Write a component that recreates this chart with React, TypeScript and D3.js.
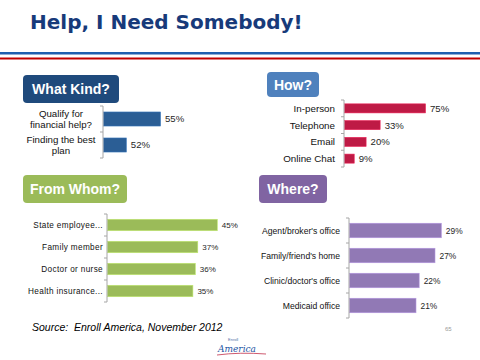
import { useEffect, useRef } from "react";
import * as d3 from "d3";

// What Kind?
const kindLabels = ["Qualify for\nfinancial help?", "Finding the best\nplan"];
const kindValues = [55, 52];

// How?
const howLabels = ["In-person", "Telephone", "Email", "Online Chat"];
const howValues = [75, 33, 20, 9];

// From Whom?
const whomLabels = ["State employee...", "Family member", "Doctor or nurse", "Health insurance..."];
const whomValues = [45, 37, 36, 35];

// Where?
const whereLabels = ["Agent/broker's office", "Family/friend's home", "Clinic/doctor's office", "Medicaid office"];
const whereValues = [29, 27, 22, 21];

const FONT = "'Liberation Sans', Arial, sans-serif";

interface Panel {
  title: string;
  titleColor: string;
  box: [number, number, number, number];
  labels: string[];
  values: number[];
  barColor: string;
  axisX: number;
  y0: number;
  y1: number;
  domain: [number, number];
  rangeWidth: number;
  padding: number;
  labelSize: number;
  valueSize: number;
  labelAnchor: "end" | "middle";
  labelX: number;
  labelSpacing?: number;
}

const panels: Panel[] = [
  {
    title: "What Kind?",
    titleColor: "#1F4A7C",
    box: [23, 75, 96, 28],
    labels: kindLabels,
    values: kindValues,
    barColor: "#2B5E95",
    axisX: 103,
    y0: 106,
    y1: 158,
    domain: [50, 60],
    rangeWidth: 114,
    padding: 0.46,
    labelSize: 9.7,
    valueSize: 9.6,
    labelAnchor: "middle",
    labelX: 61,
  },
  {
    title: "How?",
    titleColor: "#4F81BD",
    box: [267, 72, 52, 25],
    labels: howLabels,
    values: howValues,
    barColor: "#BE1A45",
    axisX: 344,
    y0: 100,
    y1: 167,
    domain: [0, 100],
    rangeWidth: 108,
    padding: 0.46,
    labelSize: 9.8,
    valueSize: 9.6,
    labelAnchor: "end",
    labelX: 335,
  },
  {
    title: "From Whom?",
    titleColor: "#9BBB59",
    box: [23, 175, 104, 28],
    labels: whomLabels,
    values: whomValues,
    barColor: "#9BBB59",
    axisX: 107,
    y0: 214,
    y1: 302,
    domain: [0, 50],
    rangeWidth: 122,
    padding: 0.48,
    labelSize: 8.2,
    valueSize: 8,
    labelAnchor: "end",
    labelX: 103,
    labelSpacing: 0.35,
  },
  {
    title: "Where?",
    titleColor: "#8064A2",
    box: [259, 175, 68, 28],
    labels: whereLabels,
    values: whereValues,
    barColor: "#9179B5",
    axisX: 349,
    y0: 218,
    y1: 318,
    domain: [0, 30],
    rangeWidth: 95,
    padding: 0.42,
    labelSize: 8.6,
    valueSize: 8.4,
    labelAnchor: "end",
    labelX: 340,
  },
];

export default function App() {
  const svgRef = useRef<SVGSVGElement>(null);

  useEffect(() => {
    if (!svgRef.current) return;
    const svg = d3.select(svgRef.current);
    svg.selectAll("*").remove();

    svg.append("rect").attr("width", 480).attr("height", 360).attr("fill", "#fff");

    // Title
    svg
      .append("text")
      .attr("x", 30)
      .attr("y", 29)
      .attr("font-family", "'DejaVu Sans', sans-serif")
      .attr("font-weight", "bold")
      .attr("font-size", 20)
      .attr("fill", "#173A7A")
      .text("Help, I Need Somebody!");

    svg.append("rect").attr("x", 0).attr("y", 52).attr("width", 480).attr("height", 2.5).attr("fill", "#1F5FAF");
    svg.append("rect").attr("x", 0).attr("y", 57.5).attr("width", 480).attr("height", 2).attr("fill", "#C00000");

    panels.forEach((p) => {
      const g = svg.append("g");
      const [bx, by, bw, bh] = p.box;

      // Header box
      g.append("rect")
        .attr("x", bx)
        .attr("y", by)
        .attr("width", bw)
        .attr("height", bh)
        .attr("rx", 4)
        .attr("fill", p.titleColor);
      g.append("text")
        .attr("x", bx + bw / 2)
        .attr("y", by + bh / 2)
        .attr("dy", "0.36em")
        .attr("text-anchor", "middle")
        .attr("font-family", FONT)
        .attr("font-weight", "bold")
        .attr("font-size", 14)
        .attr("fill", "#fff")
        .text(p.title);

      const y = d3
        .scaleBand<string>()
        .domain(p.labels)
        .range([p.y0, p.y1])
        .paddingInner(p.padding)
        .paddingOuter(p.padding / 2);

      const x = d3
        .scaleLinear()
        .domain(p.domain)
        .range([p.axisX, p.axisX + p.rangeWidth]);

      // Bars
      g.selectAll(".bar")
        .data(p.values)
        .enter()
        .append("rect")
        .attr("x", p.axisX + 0.5)
        .attr("y", (_, i) => y(p.labels[i]) ?? 0)
        .attr("width", (d) => x(d) - p.axisX)
        .attr("height", y.bandwidth())
        .attr("fill", p.barColor)
        .attr("stroke", d3.color(p.barColor)!.brighter(0.6).toString())
        .attr("stroke-width", 0.6);

      // Values
      g.selectAll(".val")
        .data(p.values)
        .enter()
        .append("text")
        .attr("x", (d) => x(d) + 5)
        .attr("y", (_, i) => (y(p.labels[i]) ?? 0) + y.bandwidth() / 2)
        .attr("dy", "0.36em")
        .attr("font-family", FONT)
        .attr("font-size", p.valueSize)
        .attr("fill", "#262626")
        .text((d) => `${d}%`);

      // Axis line and ticks at band boundaries
      const bounds = d3.range(p.labels.length + 1).map((i) => p.y0 + i * ((p.y1 - p.y0) / p.labels.length));
      g.append("line")
        .attr("x1", p.axisX)
        .attr("x2", p.axisX)
        .attr("y1", p.y0)
        .attr("y2", p.y1)
        .attr("stroke", "#A6A6A6")
        .attr("stroke-width", 1);
      g.selectAll(".tick")
        .data(bounds)
        .enter()
        .append("line")
        .attr("x1", p.axisX - 3)
        .attr("x2", p.axisX)
        .attr("y1", (d) => d)
        .attr("y2", (d) => d)
        .attr("stroke", "#A6A6A6");

      // Category labels
      p.labels.forEach((label) => {
        const lines = label.split("\n");
        const cy = (y(label) ?? 0) + y.bandwidth() / 2;
        const t = g
          .append("text")
          .attr("text-anchor", p.labelAnchor)
          .attr("font-family", FONT)
          .attr("font-size", p.labelSize)
          .attr("letter-spacing", p.labelSpacing ?? 0)
          .attr("fill", "#111");
        lines.forEach((ln, j) => {
          t.append("tspan")
            .attr("x", p.labelX)
            .attr("y", cy + (j - (lines.length - 1) / 2) * 11 + p.labelSize * 0.36)
            .text(ln);
        });
      });
    });

    // Source
    svg
      .append("text")
      .attr("x", 32)
      .attr("y", 331)
      .attr("font-family", FONT)
      .attr("font-style", "italic")
      .attr("font-size", 10.5)
      .attr("fill", "#000")
      .attr("xml:space", "preserve")
      .style("white-space", "pre")
      .text("Source:  Enroll America, November 2012");

    // Page number
    svg
      .append("text")
      .attr("x", 445)
      .attr("y", 331)
      .attr("font-family", FONT)
      .attr("font-size", 6)
      .attr("fill", "#999")
      .text("65");

    // Logo
    svg
      .append("text")
      .attr("x", 228)
      .attr("y", 341)
      .attr("font-family", FONT)
      .attr("font-size", 4)
      .attr("fill", "#4F6FA8")
      .text("Enroll");
    svg
      .append("text")
      .attr("x", 218)
      .attr("y", 352)
      .attr("font-family", "'DejaVu Serif', serif")
      .attr("font-style", "italic")
      .attr("font-size", 9)
      .attr("fill", "#2455A4")
      .text("America");
    svg
      .append("path")
      .attr("d", "M217,355 Q240,352 266,354")
      .attr("fill", "none")
      .attr("stroke", "#C0304A")
      .attr("stroke-width", 0.8);
  }, []);

  return (
    <svg
      ref={svgRef}
      width={480}
      height={360}
      style={{ position: "absolute", left: 0, top: 0 }}
    />
  );
}
